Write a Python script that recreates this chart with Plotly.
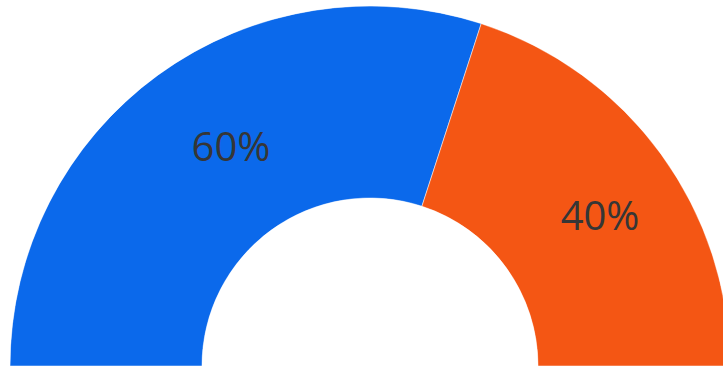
import plotly.graph_objects as go

# Half-donut: two shares laid out over a 180° arc
labels = ["Segment A", "Segment B"]
shares = [60, 40]
colors = ["#0b69eb", "#f45614"]

# label placement inside the ring (radial fraction, angular nudge in degrees)
label_r = [0.458, 0.544]
label_dtheta = [-3.1, -3.6]

W, H = 740, 369

total = sum(shares)
centers, widths = [], []
start = 180.0
for s in shares:
    w = 180.0 * s / total
    centers.append(start - w / 2)
    widths.append(w)
    start -= w

fig = go.Figure()
fig.add_trace(go.Barpolar(
    r=[1] * len(shares),
    theta=centers,
    width=widths,
    marker=dict(color=colors, line=dict(color="white", width=0.5)),
    hovertext=labels,
    hoverinfo="text",
    showlegend=False,
))
fig.add_trace(go.Scatterpolar(
    r=label_r,
    theta=[c + d for c, d in zip(centers, label_dtheta)],
    mode="text",
    text=[f"{s}%" for s in shares],
    textfont=dict(family="Open Sans", size=40, color="#363636"),
    hoverinfo="skip",
    showlegend=False,
))

fig.update_layout(
    width=W,
    height=H,
    margin=dict(l=0, r=0, t=0, b=0),
    paper_bgcolor="white",
    polar=dict(
        domain=dict(x=[10 / W, 730 / W], y=[3 / H, 363 / H]),
        sector=[0, 180],
        hole=168 / 360,
        bgcolor="white",
        radialaxis=dict(visible=False, range=[0, 1]),
        angularaxis=dict(visible=False, showgrid=False, thetaunit="degrees"),
    ),
)

fig.write_html("out.html", config={"displayModeBar": False})
